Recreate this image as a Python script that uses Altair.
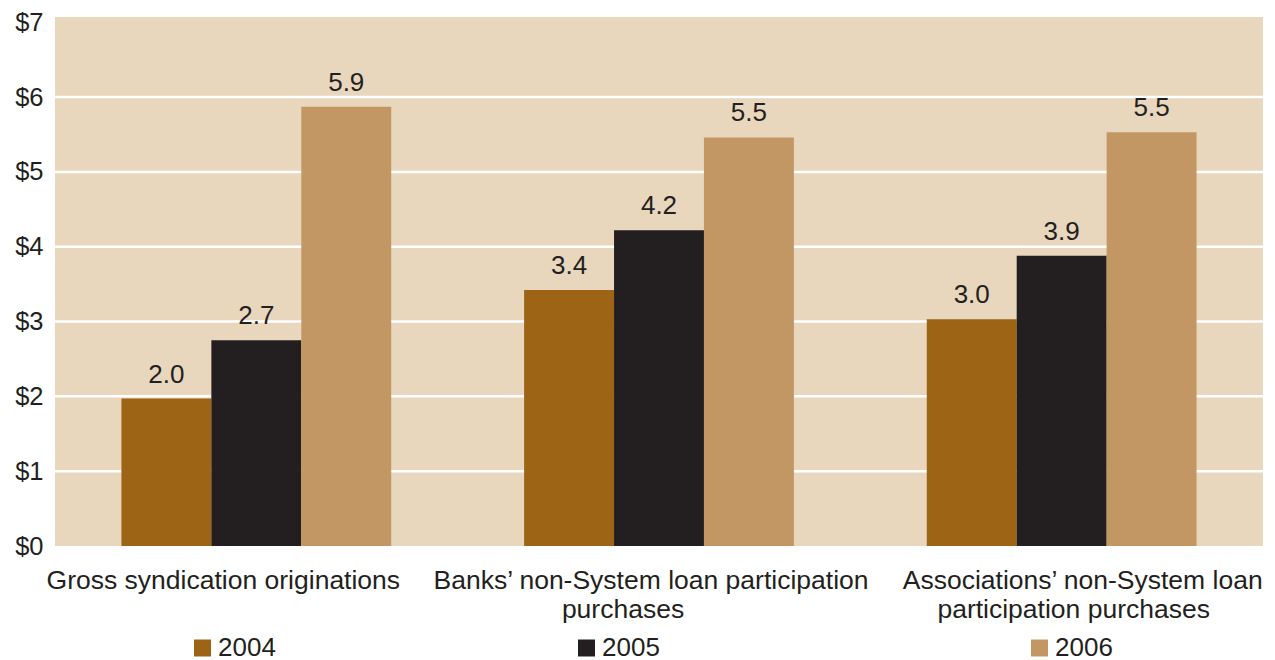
import altair as alt
import pandas as pd

categories = [
    "Gross syndication originations",
    "Banks\u2019 non-System loan participation purchases",
    "Associations\u2019 non-System loan participation purchases",
]
category_line1 = [
    "Gross syndication originations",
    "Banks\u2019 non-System loan participation",
    "Associations\u2019 non-System loan",
]
category_line2 = ["", "purchases", "participation purchases"]
years = ["2004", "2005", "2006"]
values_2004 = [1.97, 3.42, 3.03]
values_2005 = [2.75, 4.22, 3.88]
values_2006 = [5.87, 5.46, 5.53]
labels_2004 = ["2.0", "3.4", "3.0"]
labels_2005 = ["2.7", "4.2", "3.9"]
labels_2006 = ["5.9", "5.5", "5.5"]
y_ticks = [0, 1, 2, 3, 4, 5, 6, 7]
grid_values = [1, 2, 3, 4, 5, 6]
colors = ["#9C6414", "#231F20", "#C29764"]

rows = []
for yr, vals, labs in zip(years, [values_2004, values_2005, values_2006],
                          [labels_2004, labels_2005, labels_2006]):
    for c, v, l in zip(categories, vals, labs):
        rows.append({"category": c, "year": yr, "value": v, "label": l})
df = pd.DataFrame(rows)

TEXT = "#231F20"
FONT = "Liberation Sans"

x_scale = alt.Scale(paddingInner=0.33, paddingOuter=0.165)
x_enc = alt.X("category:N", sort=categories, scale=x_scale, axis=None)
xoff = alt.XOffset("year:N", sort=years, scale=alt.Scale(paddingInner=0, paddingOuter=0))
y_scale = alt.Scale(domain=[0, 7.07], nice=False)
y_axis = alt.Axis(
    title=None, values=y_ticks, grid=False, domain=False, ticks=False,
    labelFontSize=25.5, labelFont=FONT, labelColor=TEXT, labelPadding=12,
    labelExpr="'$' + datum.value",
)

grid = alt.Chart(pd.DataFrame({"v": grid_values})).mark_rule(
    color="white", strokeWidth=2.5
).encode(y=alt.Y("v:Q", scale=y_scale, axis=y_axis))

bars = alt.Chart(df).mark_bar().encode(
    x=x_enc,
    xOffset=xoff,
    y=alt.Y("value:Q", scale=y_scale, axis=y_axis),
    color=alt.Color("year:N", scale=alt.Scale(domain=years, range=colors), legend=None),
)

texts = alt.Chart(df).mark_text(
    dy=-16, baseline="alphabetic", fontSize=26, font=FONT, color=TEXT
).encode(
    x=alt.X("category:N", sort=categories),
    xOffset=xoff,
    y=alt.Y("value:Q", scale=y_scale),
    text="label:N",
)

# category labels below the plot, one text per line (horizontal shifts as in the original)
line1_dx = [-33, -8, 21]
line2_dx = [0, -36, 12]
cat_layers = []
for c, l1, l2, d1, d2 in zip(categories, category_line1, category_line2, line1_dx, line2_dx):
    for txt, d, ypix in ((l1, d1, 572), (l2, d2, 601)):
        if not txt:
            continue
        cdf = pd.DataFrame({"category": [c], "text": [txt]})
        cat_layers.append(
            alt.Chart(cdf).mark_text(
                dx=d, baseline="alphabetic", fontSize=26.5, font=FONT, color=TEXT
            ).encode(
                x=alt.X("category:N", sort=categories),
                y=alt.value(ypix),
                text="text:N",
            )
        )

# manual legend (square + label), positioned under the groups
legend_sq_x = [147.5, 531.5, 984.5]
legend_txt_x = [163, 547, 1000]
legend_layers = []
for yr, col, sx, tx in zip(years, colors, legend_sq_x, legend_txt_x):
    ldf = pd.DataFrame({"year": [yr]})
    legend_layers.append(
        alt.Chart(ldf).mark_square(size=289, color=col, opacity=1).encode(
            x=alt.value(sx), y=alt.value(631)
        )
    )
    legend_layers.append(
        alt.Chart(ldf).mark_text(
            align="left", baseline="alphabetic", fontSize=26, font=FONT, color=TEXT
        ).encode(x=alt.value(tx), y=alt.value(638.5), text="year:N")
    )

chart = alt.layer(grid, bars, texts, *cat_layers, *legend_layers).properties(
    width=1208,
    height=529,
    autosize=alt.AutoSizeParams(type="none"),
    padding={"left": 55, "top": 17, "right": 12, "bottom": 114},
    background="white",
).configure_view(fill="#E8D6BD", stroke=None)

chart.save("out.html", embed_options={"renderer": "svg", "actions": False})
